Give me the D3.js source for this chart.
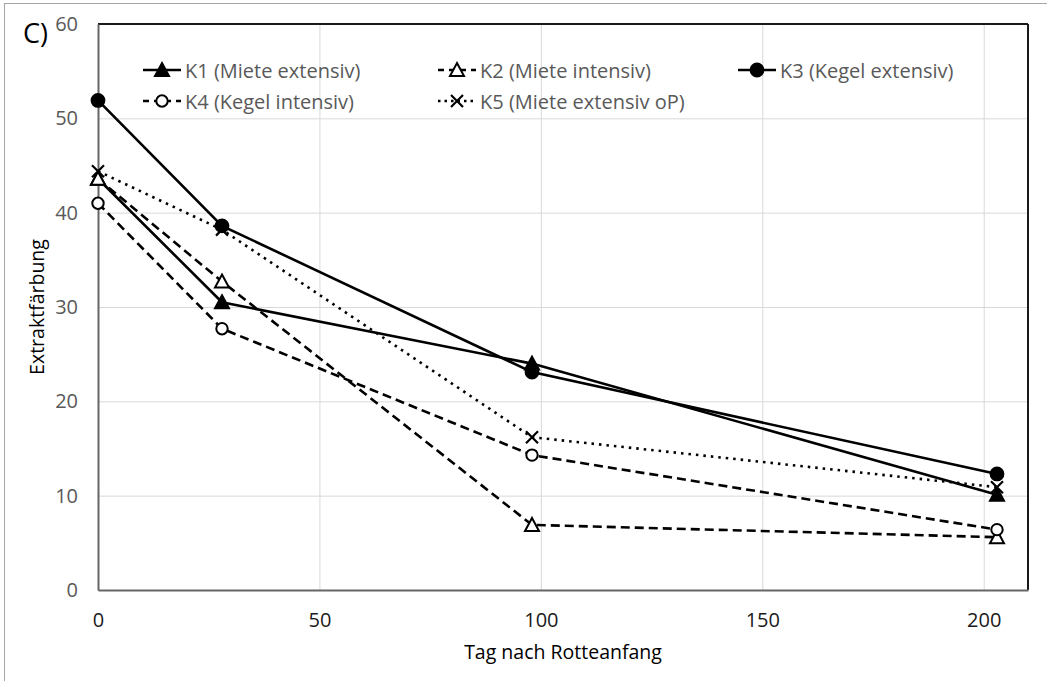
<!DOCTYPE html>
<html>
<head>
<meta charset="utf-8">
<script src="https://cdn.jsdelivr.net/npm/d3@7"></script>
<style>
  body { margin: 0; background: #fff; }
  text { font-family: "Open Sans", sans-serif; }
</style>
</head>
<body>
<div id="chart"></div>
<script>
// data
var days = [0, 28, 98, 203];
var k1 = [43.6, 30.5, 24.0, 10.1];
var k2 = [43.6, 32.7, 6.9, 5.6];
var k3 = [51.9, 38.6, 23.1, 12.3];
var k4 = [41.0, 27.7, 14.3, 6.4];
var k5 = [44.4, 38.2, 16.2, 10.9];
var seriesNames = ["K1 (Miete extensiv)", "K2 (Miete intensiv)", "K3 (Kegel extensiv)",
                   "K4 (Kegel intensiv)", "K5 (Miete extensiv oP)"];
var xTicks = [0, 50, 100, 150, 200];
var yTicks = [0, 10, 20, 30, 40, 50, 60];

var svgWidth = 1047;
var svgHeight = 681;
var margin = { top: 24, right: 19, bottom: 91, left: 98 };
var width = svgWidth - margin.left - margin.right;
var height = svgHeight - margin.top - margin.bottom;

var svg = d3.select("#chart")
  .append("svg")
  .attr("width", svgWidth)
  .attr("height", svgHeight);

// outer chart border (only left/top visible)
svg.append("rect")
  .attr("x", 4.5).attr("y", 3.5)
  .attr("width", svgWidth + 20).attr("height", svgHeight + 20)
  .attr("fill", "none")
  .attr("stroke", "#a6a6a6")
  .attr("stroke-width", 1);

var chartGroup = svg.append("g")
  .attr("transform", `translate(${margin.left}, ${margin.top})`);

var x = d3.scaleLinear().domain([0, 210]).range([0, width]);
var y = d3.scaleLinear().domain([0, 60]).range([height, 0]);

// gridlines
chartGroup.append("g")
  .attr("transform", `translate(0, ${height})`)
  .call(d3.axisBottom(x).tickValues(xTicks).tickSize(-height).tickFormat(""))
  .call(g => g.select(".domain").remove())
  .call(g => g.selectAll("line").attr("stroke", "#d9d9d9").attr("stroke-width", 1));

chartGroup.append("g")
  .call(d3.axisLeft(y).tickValues(yTicks).tickSize(-width).tickFormat(""))
  .call(g => g.select(".domain").remove())
  .call(g => g.selectAll("line").attr("stroke", "#d9d9d9").attr("stroke-width", 1));

// plot area frame: dark top/right, gray axes left/bottom
chartGroup.append("line")
  .attr("x1", 0).attr("x2", width).attr("y1", 0).attr("y2", 0)
  .attr("stroke", "#1a1a1a").attr("stroke-width", 2);
chartGroup.append("line")
  .attr("x1", width).attr("x2", width).attr("y1", 0).attr("y2", height)
  .attr("stroke", "#1a1a1a").attr("stroke-width", 2);

// axes
var bottomAxis = d3.axisBottom(x).tickValues(xTicks).tickSize(0).tickPadding(23);
var leftAxis = d3.axisLeft(y).tickValues(yTicks).tickSize(0).tickPadding(20);

chartGroup.append("g")
  .attr("transform", `translate(0, ${height})`)
  .call(bottomAxis)
  .call(g => g.select(".domain").attr("stroke", "#666").attr("stroke-width", 2))
  .call(g => g.selectAll("text")
    .style("font-family", "Open Sans")
    .style("font-size", "20px")
    .attr("fill", "#1a1a1a"));

chartGroup.append("g")
  .call(leftAxis)
  .call(g => g.select(".domain").attr("stroke", "#666").attr("stroke-width", 2))
  .call(g => g.selectAll("text")
    .style("font-family", "Open Sans")
    .style("font-size", "20px")
    .attr("fill", "#595959"));

// series
var allSeries = [k1, k2, k3, k4, k5];
var dashes = ["none", "9,5", "none", "9,5", "2.5,5"];
var markers = ["triFill", "triOpen", "dotFill", "dotOpen", "cross"];

var line = d3.line()
  .x((d, i) => x(days[i]))
  .y(d => y(d));

function drawMarker(g, type, cx, cy) {
  if (type === "triFill" || type === "triOpen") {
    g.append("path")
      .attr("d", `M${cx},${cy - 7} L${cx + 7},${cy + 6} L${cx - 7},${cy + 6} Z`)
      .attr("fill", type === "triFill" ? "#000" : "#fff")
      .attr("stroke", "#000").attr("stroke-width", 2)
      .attr("stroke-linejoin", "miter");
  } else if (type === "dotFill" || type === "dotOpen") {
    g.append("circle")
      .attr("cx", cx).attr("cy", cy)
      .attr("r", type === "dotFill" ? 6.4 : 5.7)
      .attr("fill", type === "dotFill" ? "#000" : "#fff")
      .attr("stroke", "#000").attr("stroke-width", 2);
  } else {
    g.append("path")
      .attr("d", `M${cx - 6},${cy - 6} L${cx + 6},${cy + 6} M${cx + 6},${cy - 6} L${cx - 6},${cy + 6}`)
      .attr("stroke", "#000").attr("stroke-width", 2.2);
  }
}

allSeries.forEach(function(vals, s) {
  chartGroup.append("path")
    .datum(vals)
    .attr("d", line)
    .attr("fill", "none")
    .attr("stroke", "#000")
    .attr("stroke-width", 2.6)
    .attr("stroke-dasharray", dashes[s]);
});

allSeries.forEach(function(vals, s) {
  var mg = chartGroup.append("g");
  vals.forEach(function(v, i) {
    drawMarker(mg, markers[s], x(days[i]), y(v));
  });
});

// legend
var legendPos = [[143, 70], [438, 70], [738, 70], [143, 101], [438, 101]];
seriesNames.forEach(function(name, s) {
  var lg = svg.append("g")
    .attr("transform", `translate(${legendPos[s][0]}, ${legendPos[s][1]})`);
  lg.append("line")
    .attr("x1", 0).attr("x2", 38).attr("y1", 0).attr("y2", 0)
    .attr("stroke", "#000").attr("stroke-width", 2.6)
    .attr("stroke-dasharray", dashes[s] === "none" ? "none" : (s === 4 ? "2.5,4" : "6,5"));
  drawMarker(lg, markers[s], 19, 0);
  lg.append("text")
    .attr("x", 42)
    .attr("y", 1)
    .attr("dy", "0.35em")
    .style("font-size", "20px")
    .attr("fill", "#595959")
    .text(name);
});

// axis titles
svg.append("text")
  .attr("x", margin.left + width / 2)
  .attr("y", 659)
  .attr("text-anchor", "middle")
  .style("font-size", "19.5px")
  .attr("fill", "#000")
  .text("Tag nach Rotteanfang");

svg.append("text")
  .attr("transform", `translate(44, ${margin.top + height / 2}) rotate(-90)`)
  .attr("text-anchor", "middle")
  .style("font-size", "19.5px")
  .attr("fill", "#000")
  .text("Extraktfärbung");

// panel label
svg.append("text")
  .attr("x", 23)
  .attr("y", 43)
  .style("font-size", "27px")
  .attr("fill", "#000")
  .text("C)");
</script>
</body>
</html>
